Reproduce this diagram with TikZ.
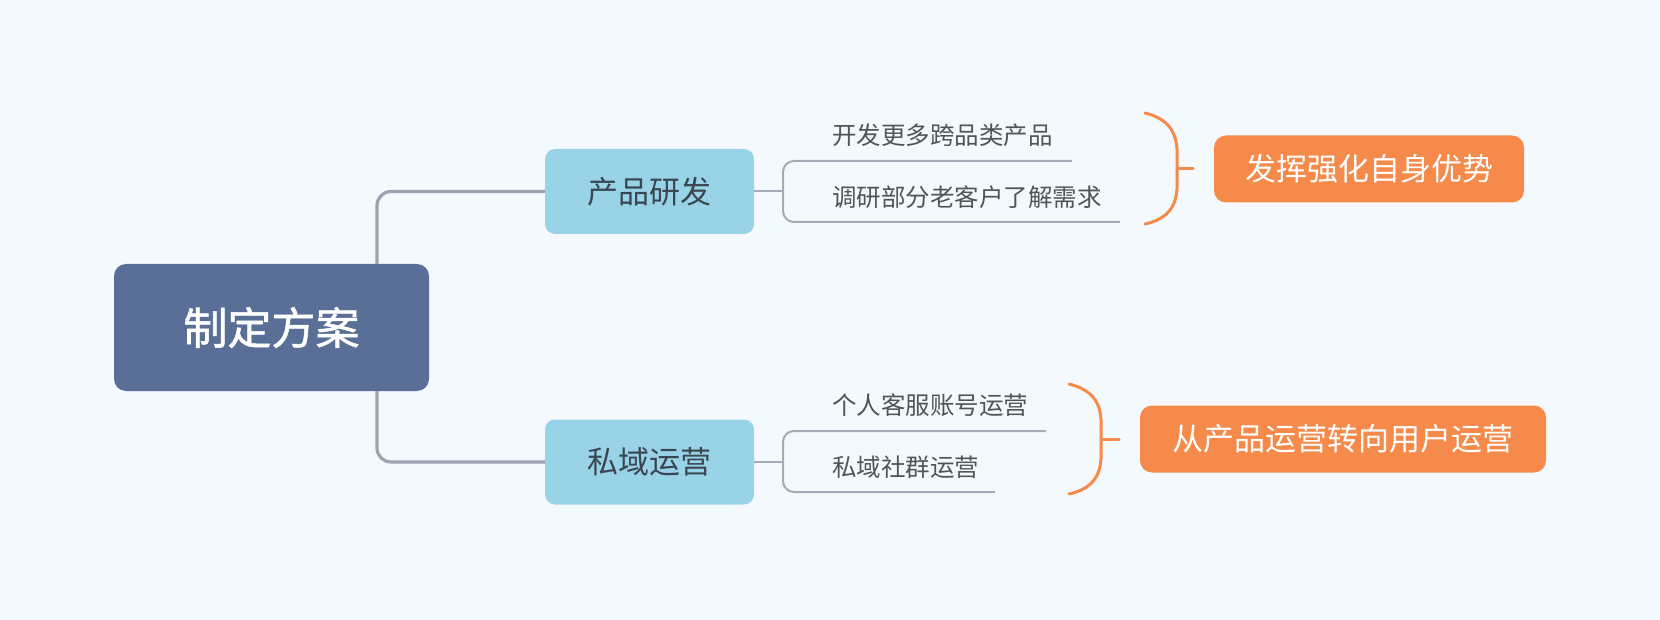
\documentclass[tikz,border=0pt]{standalone}
\usepackage{fontspec}
\newfontfamily\cjk{Noto Sans CJK SC}
\newfontfamily\cjkb[FakeBold=1.2]{Noto Sans CJK SC}
\definecolor{bgc}{HTML}{F4F9FD}
\definecolor{centc}{HTML}{5A6F97}
\definecolor{branchc}{HTML}{98D3E7}
\definecolor{orangec}{HTML}{F68A4A}
\definecolor{linec}{HTML}{9CA4B4}
\definecolor{sublinec}{HTML}{A3AAB8}
\definecolor{darktext}{HTML}{3A4650}
\definecolor{subtext}{HTML}{505558}
\tikzset{
  centbox/.style={fill=centc, rounded corners=12pt, minimum width=315pt, minimum height=127pt, inner sep=0pt,
    text=white, font=\cjkb\fontsize{44}{48}\selectfont},
  branchbox/.style={fill=branchc, rounded corners=10pt, minimum width=209pt, minimum height=85pt, inner sep=0pt,
    text=darktext, font=\cjk\fontsize{31}{34}\selectfont},
  sumbox/.style={fill=orangec, rounded corners=12pt, minimum height=67pt, inner sep=0pt,
    text=white, font=\cjk\fontsize{31}{34}\selectfont},
  subitem/.style={inner sep=0pt, text=subtext, font=\cjk\fontsize{24.5}{28}\selectfont},
  mainline/.style={draw=linec, line width=3.2pt, rounded corners=14pt},
  subline/.style={draw=sublinec, line width=2pt, rounded corners=11pt},
  bracec/.style={draw=orangec, line width=3pt, line cap=round},
}
\begin{document}
\begin{tikzpicture}[x=1pt,y=-1pt]
\fill[bgc] (0,0) rectangle (1660,620);
\useasboundingbox (0,0) rectangle (1660,620);

% main nodes
\node[centbox] (cen) at (271.5,327.5) {制定方案};
\node[branchbox] (prod) at (649.5,191.5) {产品研发};
\node[branchbox] (priv) at (649.5,462) {私域运营};

% main connectors
\coordinate (c1) at (377,264);
\coordinate (c2) at (377,391);
\draw[mainline] (c1) |- (prod.west);
\draw[mainline] (c2) |- (priv.west);

% sub items of product
\coordinate (j1) at (783,191.5);
\coordinate (a1) at (1072,161);
\coordinate (a2) at (1120,222);
\draw[subline] (prod.east) -- (j1);
\draw[subline] (a1) -| (j1) |- (a2);
\node[subitem, anchor=west] (t1) at (832,135) {开发更多跨品类产品};
\node[subitem, anchor=west] (t2) at (832,197) {调研部分老客户了解需求};

% sub items of private
\coordinate (j2) at (783,462);
\coordinate (b1) at (1046,431);
\coordinate (b2) at (995,492);
\draw[subline] (priv.east) -- (j2);
\draw[subline] (b1) -| (j2) |- (b2);
\node[subitem, anchor=west] (t3) at (832,405) {个人客服账号运营};
\node[subitem, anchor=west] (t4) at (832,467) {私域社群运营};

% braces
\coordinate (br1t) at (1145,113);
\coordinate (br1m) at (1177,169);
\coordinate (br1b) at (1145,224);
\coordinate (br1k) at (1193,169);
\draw[bracec] (br1t) .. controls (1182,122) and (1177,150) .. (br1m) .. controls (1177,188) and (1182,216) .. (br1b);
\draw[bracec] (br1m) -- (br1k);

\coordinate (br2t) at (1069,384);
\coordinate (br2m) at (1101,439);
\coordinate (br2b) at (1069,494);
\coordinate (br2k) at (1119,439);
\draw[bracec] (br2t) .. controls (1106,393) and (1101,420) .. (br2m) .. controls (1101,458) and (1106,486) .. (br2b);
\draw[bracec] (br2m) -- (br2k);

% summary boxes
\node[sumbox, minimum width=310pt] (s1) at (1369,169) {发挥强化自身优势};
\node[sumbox, minimum width=406pt] (s2) at (1343,439) {从产品运营转向用户运营};
\end{tikzpicture}
\end{document}
